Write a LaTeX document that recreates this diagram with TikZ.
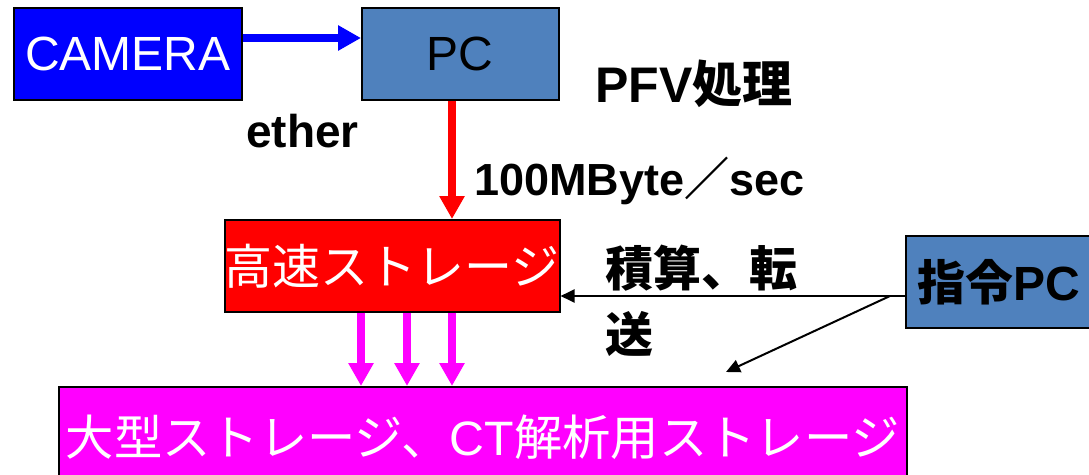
\documentclass[tikz,border=0pt]{standalone}
\usepackage{fontspec}
\setmainfont{Liberation Sans}
\newfontfamily\cjk{Noto Sans CJK JP}
\newfontfamily\lat{Liberation Sans}
\usetikzlibrary{arrows.meta}
\definecolor{camblue}{HTML}{0000FF}
\definecolor{pcblue}{HTML}{4F81BD}
\definecolor{fastred}{HTML}{FF0000}
\definecolor{bigmag}{HTML}{FF00FF}
\begin{document}
\begin{tikzpicture}[x=1pt,y=-1pt,
  box/.style={draw=black,line width=1.5pt,inner sep=0pt,anchor=north west},
  big/.style={font=\fontsize{48}{52}\selectfont},
  lbl/.style={font=\fontsize{46}{50}\selectfont\bfseries,inner sep=0pt},
  thickarrow/.style={line width=8pt,-{Triangle[length=23pt,width=24pt]}},
  thinarrow/.style={line width=2pt,-{Triangle[length=14pt,width=13pt]}}]
\useasboundingbox (0,0) rectangle (1089,474);
\fill[white] (0,0) rectangle (1089,474);
% boxes
\node[box,fill=camblue,minimum width=228pt,minimum height=92pt,text=white,big] (cam) at (13,7) {CAMERA};
\node[box,fill=pcblue,minimum width=197pt,minimum height=92pt,big] (pc) at (361,7) {PC};
\node[box,fill=fastred,minimum width=334pt,minimum height=92pt,text=white,big] (fast) at (224,219) {\cjk 高速ストレージ};
\node[box,fill=pcblue,minimum height=92pt,text width=200pt,align=left,inner xsep=12pt,big] (cmd) at (905,235) {{\cjk\bfseries 指令}\bfseries PC};
\node[box,fill=bigmag,minimum width=848pt,minimum height=100pt,text=white,font=\fontsize{48.3}{54}\selectfont] (stor) at (58,386) {\cjk 大型ストレージ、{\lat CT}解析用ストレージ};
% helper coordinates
\coordinate (bl) at (0,38);
\coordinate (rx) at (452,0);
\coordinate (m1) at (361,0);
\coordinate (m2) at (407,0);
\coordinate (m3) at (452,0);
\coordinate (ky) at (0,296);
\coordinate (ks) at (890,296);
\coordinate (ke) at (726,372);
% connectors
\draw[thickarrow,draw=camblue] (cam.east |- bl) -- (pc.west |- bl);
\draw[thickarrow,draw=fastred] (pc.south -| rx) -- (fast.north -| rx);
\draw[thickarrow,draw=bigmag] (fast.south -| m1) -- (stor.north -| m1);
\draw[thickarrow,draw=bigmag] (fast.south -| m2) -- (stor.north -| m2);
\draw[thickarrow,draw=bigmag] (fast.south -| m3) -- (stor.north -| m3);
\draw[thinarrow] (cmd.west |- ky) -- (fast.east |- ky);
\draw[thinarrow] (ks) -- (ke);
% labels
\node[lbl,anchor=base west] (ether) at (246,147) {ether};
\node[lbl,anchor=center,font=\fontsize{50}{54}\selectfont\bfseries] (pfv) at (694,84) {PFV{\cjk\bfseries 処理}};
\node[lbl,anchor=base west,font=\fontsize{45}{50}\selectfont\bfseries] (rate) at (474,195) {100MByte{\cjk\bfseries ／}sec};
\node[lbl,anchor=west,font=\fontsize{48}{52}\selectfont\bfseries] (sek) at (605,268) {\cjk\bfseries 積算、転};
\node[lbl,anchor=west,font=\fontsize{48}{52}\selectfont\bfseries] (sou) at (605,334) {\cjk\bfseries 送};
\end{tikzpicture}
\end{document}
